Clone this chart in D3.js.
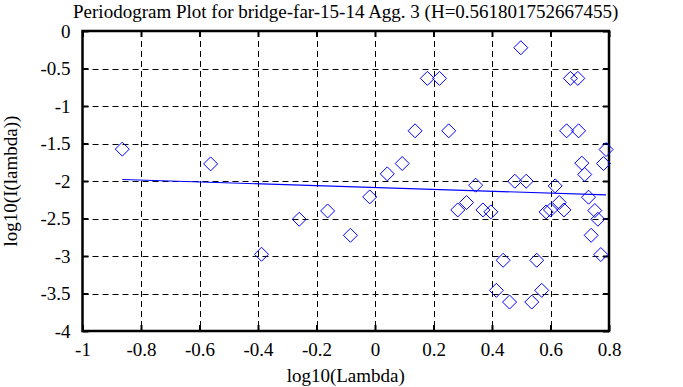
<!DOCTYPE html>
<html lang="en">
<head>
<meta charset="utf-8">
<title>periodogram</title>
<script src="https://cdn.jsdelivr.net/npm/d3@7"></script>
<style>
  body { margin: 0; background: #fff; }
  text { font-family: "Liberation Serif", "Times New Roman", serif; fill: #000; }
</style>
</head>
<body>
<svg width="683" height="387"></svg>
<script>
var titleText = "Periodogram Plot for bridge-far-15-14 Agg. 3 (H=0.561801752667455)";
var xLabel = "log10(Lambda)";
var yLabel = "log10(I(lambda))";

var xTicks = [-1, -0.8, -0.6, -0.4, -0.2, 0, 0.2, 0.4, 0.6, 0.8];
var yTicks = [0, -0.5, -1, -1.5, -2, -2.5, -3, -3.5, -4];

// periodogram points
var logLambda = [-0.864, -0.562, -0.388, -0.259, -0.162, -0.084, -0.018, 0.042, 0.093, 0.137,
  0.179, 0.2205, 0.252, 0.283, 0.313, 0.344, 0.369, 0.396, 0.415, 0.438,
  0.460, 0.478, 0.4985, 0.517, 0.536, 0.553, 0.570, 0.585, 0.600, 0.616,
  0.630, 0.646, 0.655, 0.668, 0.6935, 0.696, 0.707, 0.717, 0.730, 0.7515,
  0.762, 0.739, 0.772, 0.781, 0.790];
var logI = [-1.575, -1.772, -2.977, -2.51, -2.399, -2.724, -2.212, -1.905, -1.767, -1.331,
  -0.632, -0.632, -1.331, -2.386, -2.287, -2.056, -2.386, -2.412, -3.458, -3.057,
  -3.614, -2.003, -0.223, -2.003, -3.614, -3.057, -3.458, -2.412, -2.386, -2.065,
  -2.287, -2.386, -1.331, -0.632, -0.632, -1.331, -1.762, -1.913, -2.216, -2.394,
  -2.51, -2.724, -2.981, -1.767, -1.58];

// fitted line
var fitX = [-0.864, 0.79];
var fitY = [-1.98, -2.185];

var svg = d3.select("svg");
var mLeft = 82.5, mRight = 609, mTop = 31, mBottom = 331;
var fs = 19;

var x = d3.scaleLinear().domain([-1, 0.8]).range([mLeft, mRight]);
var y = d3.scaleLinear().domain([-4, 0]).range([mBottom, mTop]);

// grid
var grid = svg.append("g")
  .attr("stroke", "#000")
  .attr("stroke-width", 1)
  .attr("stroke-dasharray", "6,4");
grid.selectAll(".gx")
  .data(xTicks.slice(1, -1))
  .enter().append("line")
  .attr("x1", function(d) { return Math.round(x(d)) + 0.5; })
  .attr("x2", function(d) { return Math.round(x(d)) + 0.5; })
  .attr("y1", mTop).attr("y2", mBottom);
grid.selectAll(".gy")
  .data(yTicks.slice(1, -1))
  .enter().append("line")
  .attr("y1", function(d) { return Math.round(y(d)) + 0.5; })
  .attr("y2", function(d) { return Math.round(y(d)) + 0.5; })
  .attr("x1", mLeft).attr("x2", mRight);

// axes with inward ticks on all sides
var tk = 6;
var fmt = function(d) { return String(d); };
svg.append("g").attr("transform", "translate(0," + mBottom + ")")
  .call(d3.axisBottom(x).tickValues(xTicks).tickSizeInner(-tk).tickSizeOuter(0).tickPadding(12).tickFormat(fmt))
  .call(function(g) {
    g.select(".domain").remove();
    g.selectAll("text").attr("font-size", fs).attr("font-family", "Liberation Serif");
  });
svg.append("g").attr("transform", "translate(0," + mTop + ")")
  .call(d3.axisTop(x).tickValues(xTicks).tickSizeInner(-tk).tickSizeOuter(0).tickFormat(""))
  .call(function(g) { g.select(".domain").remove(); });
svg.append("g").attr("transform", "translate(" + mLeft + ",0)")
  .call(d3.axisLeft(y).tickValues(yTicks).tickSizeInner(-tk).tickSizeOuter(0).tickPadding(12).tickFormat(fmt))
  .call(function(g) {
    g.select(".domain").remove();
    g.selectAll("text").attr("font-size", fs).attr("font-family", "Liberation Serif");
  });
svg.append("g").attr("transform", "translate(" + mRight + ",0)")
  .call(d3.axisRight(y).tickValues(yTicks).tickSizeInner(-tk).tickSizeOuter(0).tickFormat(""))
  .call(function(g) { g.select(".domain").remove(); });
svg.selectAll(".tick line").attr("stroke", "#000").attr("stroke-width", 2);

svg.append("rect")
  .attr("x", mLeft).attr("y", mTop)
  .attr("width", mRight - mLeft).attr("height", mBottom - mTop)
  .attr("fill", "none").attr("stroke", "#000").attr("stroke-width", 2.5);

// diamonds
var pts = logLambda.map(function(d, i) { return [d, logI[i]]; });
svg.append("g").selectAll("path")
  .data(pts)
  .enter().append("path")
  .attr("transform", function(d) { return "translate(" + x(d[0]) + "," + y(d[1]) + ")"; })
  .attr("d", "M0,-7L7,0L0,7L-7,0Z")
  .attr("fill", "none")
  .attr("stroke", "#0000ff")
  .attr("stroke-width", 1);

// fit line
svg.append("path")
  .datum(fitX.map(function(d, i) { return [d, fitY[i]]; }))
  .attr("fill", "none")
  .attr("stroke", "#0000ff")
  .attr("stroke-width", 1.2)
  .attr("d", d3.line().x(function(d) { return x(d[0]); }).y(function(d) { return y(d[1]); }));

// labels
svg.append("text")
  .attr("x", (mLeft + mRight) / 2).attr("y", 18)
  .attr("text-anchor", "middle").attr("font-size", fs)
  .text(titleText);
svg.append("text")
  .attr("x", (mLeft + mRight) / 2).attr("y", 382)
  .attr("text-anchor", "middle").attr("font-size", fs)
  .text(xLabel);
svg.append("text")
  .attr("transform", "translate(17," + ((mTop + mBottom) / 2) + ") rotate(-90)")
  .attr("text-anchor", "middle").attr("font-size", fs)
  .text(yLabel);
</script>
</body>
</html>
